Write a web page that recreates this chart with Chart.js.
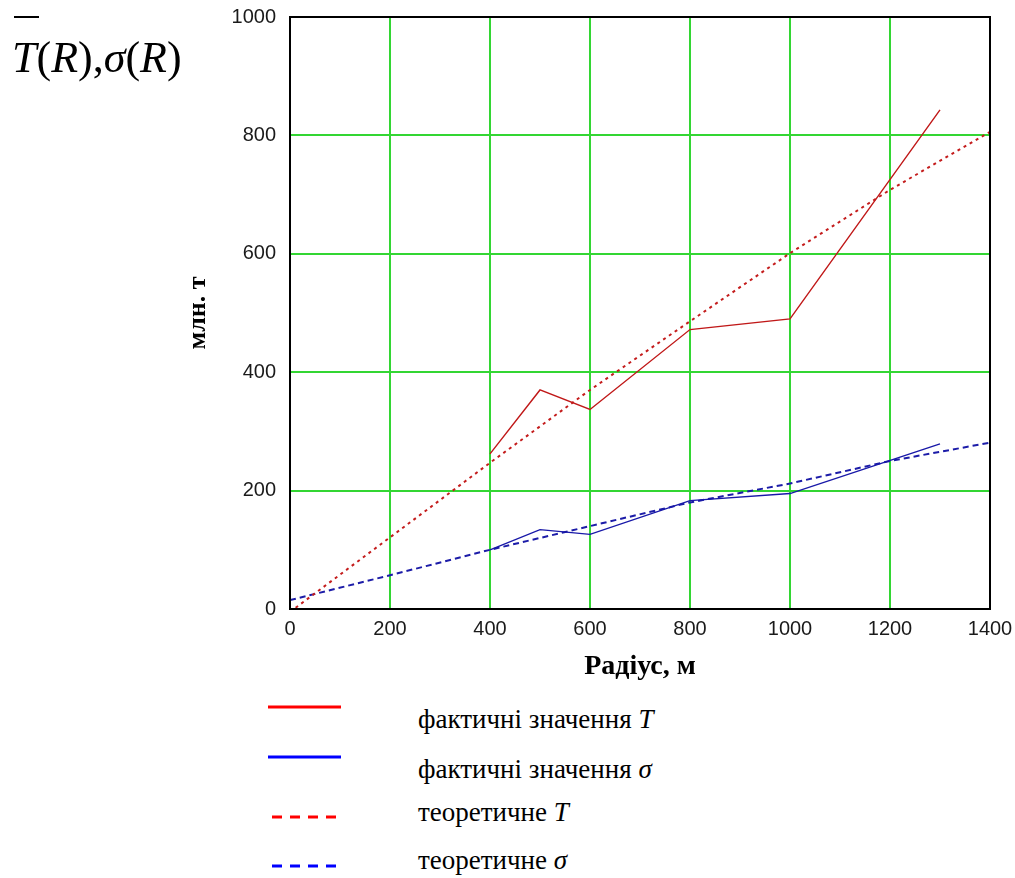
<!DOCTYPE html>
<html>
<head>
<meta charset="utf-8">
<script src="https://cdn.jsdelivr.net/npm/chart.js@4.4.0/dist/chart.umd.min.js"></script>
<style>
html,body{margin:0;padding:0;background:#fff;}
#wrap{position:relative;width:1015px;height:878px;overflow:hidden;background:#fff;}
#c{position:absolute;left:0;top:0;}
.t{position:absolute;font-family:"Liberation Serif","Times New Roman",serif;color:#000;white-space:nowrap;}
.ov{position:absolute;background:#000;}
svg.sw{position:absolute;overflow:visible;}
</style>
</head>
<body>
<div id="wrap">
  <canvas id="c" width="1015" height="700" style="width:1015px;height:700px"></canvas>
  <div class="ov" style="left:14px;top:16px;width:25px;height:2px;"></div>
  <div class="t" style="left:12px;top:36px;font-size:44px;line-height:44px;"><i>T</i>(<i>R</i>),<i>σ</i>(<i>R</i>)</div>
  <div id="legend"></div>
</div>
<script>
// ---- data ----
const radiusActual = [400, 500, 600, 800, 1000, 1300];
const actualT      = [262, 370, 337, 472, 490, 843];
const actualSigma  = [100, 134, 126, 183, 195, 279];

const radiusTheory = [0, 200, 400, 600, 800, 1000, 1200, 1400];
const theoryT      = [-5, 121, 247, 370, 486, 601, 708, 806];
const theorySigma  = [15, 57, 100, 140, 180, 212, 250, 281];

const xTickValues = [0, 200, 400, 600, 800, 1000, 1200, 1400];
const yTickValues = [0, 200, 400, 600, 800, 1000];

const seriesLabels = ['фактичні значення T', 'фактичні значення σ', 'теоретичне T', 'теоретичне σ'];
const legendTextParts = [['фактичні значення ', 'T'], ['фактичні значення ', 'σ'], ['теоретичне ', 'T'], ['теоретичне ', 'σ']];

const xTitle = 'Радіус, м';
const yTitle = 'млн. т';

function pts(xs, ys){ return xs.map((x,i)=>({x:x, y:ys[i]})); }

const frame = {
  id:'frame',
  afterDatasetsDraw(ch){
    const {ctx, chartArea:a} = ch;
    ctx.save();
    ctx.strokeStyle = '#000';
    ctx.lineWidth = 2;
    ctx.strokeRect(a.left, a.top, a.right - a.left, a.bottom - a.top);
    ctx.restore();
  }
};

const gridColor = '#33d633';
const tickFont = { family:'"Liberation Sans", Arial, sans-serif', size:20 };

new Chart(document.getElementById('c'), {
  type: 'line',
  data: {
    datasets: [
      { label: seriesLabels[0], data: pts(radiusActual, actualT), borderColor:'#c01818', borderWidth:1.4, pointRadius:0, tension:0 },
      { label: seriesLabels[1], data: pts(radiusActual, actualSigma), borderColor:'#1818a8', borderWidth:1.4, pointRadius:0, tension:0 },
      { label: seriesLabels[2], data: pts(radiusTheory, theoryT), borderColor:'#c41c1c', borderWidth:2, borderDash:[3,4], pointRadius:0, tension:0 },
      { label: seriesLabels[3], data: pts(radiusTheory, theorySigma), borderColor:'#1c1ca8', borderWidth:2, borderDash:[6,4], pointRadius:0, tension:0 }
    ]
  },
  options: {
    responsive:false,
    animation:false,
    devicePixelRatio:1,
    layout:{ padding:{ left:180, top:17, right:25, bottom:11 } },
    plugins:{ legend:{display:false}, tooltip:{enabled:false} },
    scales:{
      x:{
        type:'linear', position:'bottom', min:0, max:1400,
        afterBuildTicks(s){ s.ticks = xTickValues.map(v=>({value:v})); },
        afterFit(s){ s.height = 80; s.paddingLeft = 0; s.paddingRight = 0; },
        grid:{ color:gridColor, lineWidth:2, drawTicks:false },
        border:{ display:false },
        ticks:{ font:tickFont, color:'#1a1a1a', padding:8, maxRotation:0, autoSkip:false, callback:(v)=>String(v) },
        title:{ display:true, text:xTitle, color:'#000', font:{ family:'"Liberation Serif", "Times New Roman", serif', size:28, weight:'bold' }, padding:{ top:0, bottom:5 } }
      },
      y:{
        type:'linear', position:'left', min:0, max:1000,
        afterBuildTicks(s){ s.ticks = yTickValues.map(v=>({value:v})); },
        afterFit(s){ s.width = 110; s.paddingTop = 0; s.paddingBottom = 0; },
        grid:{ color:gridColor, lineWidth:2, drawTicks:false },
        border:{ display:false },
        ticks:{ font:tickFont, color:'#1a1a1a', padding:14, autoSkip:false, callback:(v)=>String(v) },
        title:{ display:true, text:yTitle, color:'#000', font:{ family:'"Liberation Serif", "Times New Roman", serif', size:26, weight:'bold' }, padding:{ top:3, bottom:0 } }
      }
    }
  },
  plugins:[frame]
});

// ---- legend (HTML) ----
const legendStyle = [
  { color:'#ff0000', dash:null,  lineY:707, textY:722 },
  { color:'#0000ff', dash:null,  lineY:757, textY:772 },
  { color:'#ff0000', dash:'10,8', lineY:817, textY:815 },
  { color:'#0000ff', dash:'10,8', lineY:866, textY:863 }
];
const lg = document.getElementById('legend');
legendStyle.forEach((st, i) => {
  const svgNS = 'http://www.w3.org/2000/svg';
  const svg = document.createElementNS(svgNS, 'svg');
  svg.setAttribute('class','sw');
  svg.setAttribute('width','80'); svg.setAttribute('height','6');
  svg.style.left = '266px'; svg.style.top = (st.lineY - 3) + 'px';
  const ln = document.createElementNS(svgNS, 'line');
  const x1 = st.dash ? 6 : 2;
  ln.setAttribute('x1', x1); ln.setAttribute('x2','75'); ln.setAttribute('y1','3'); ln.setAttribute('y2','3');
  ln.setAttribute('stroke', st.color); ln.setAttribute('stroke-width','3');
  if (st.dash) ln.setAttribute('stroke-dasharray', st.dash);
  svg.appendChild(ln);
  lg.appendChild(svg);
  const d = document.createElement('div');
  d.className = 't';
  d.style.left = '418px';
  d.style.fontSize = '27px';
  d.style.lineHeight = '27px';
  d.style.top = (st.textY - 16) + 'px';
  const parts = legendTextParts[i];
  d.appendChild(document.createTextNode(parts[0]));
  const it = document.createElement('i');
  it.textContent = parts[1];
  d.appendChild(it);
  lg.appendChild(d);
});
</script>
</body>
</html>
